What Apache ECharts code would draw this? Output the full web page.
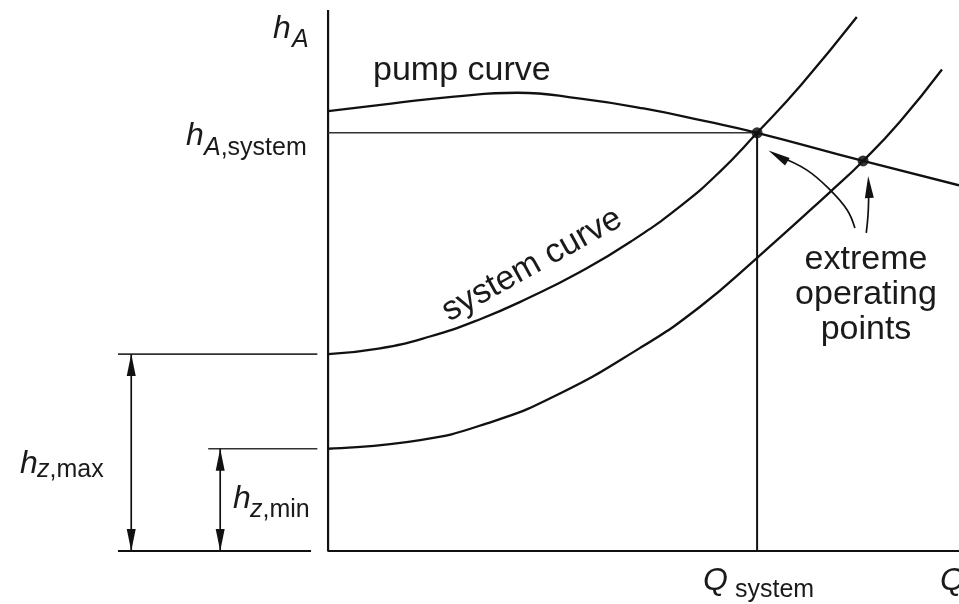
<!DOCTYPE html>
<html>
<head>
<meta charset="utf-8">
<title>pump curve / system curve</title>
<script src="https://cdn.jsdelivr.net/npm/echarts@6/dist/echarts.min.js"></script>
<style>
    html, body {margin: 0; padding: 0; background: #fff;}
    #main {width: 959px; height: 604px;}
</style>
</head>
<body>
<div id="main"></div>
<script>
// values, Q and h both on a 0-100 scale
var pumpCurve = [[0, 81.3], [10, 82.7], [20, 84.0], [30, 84.7], [40, 83.6], [50, 81.8], [60, 79.4], [68, 77.3], [84.8, 72.1], [100, 67.6]];
var systemCurveMax = [[0, 36.4], [8, 37.4], [16, 39.6], [24, 42.8], [32, 46.9], [40, 51.6], [48, 57.2], [56, 63.9], [62, 70.0], [68, 77.3], [75, 86.2], [83.8, 98.7]];
var systemCurveMin = [[0, 18.9], [14.6, 20.5], [25.2, 23.6], [35.7, 28.5], [49.4, 37.5], [59, 45.2], [68, 54.2], [79.6, 66.4], [84.8, 72.1], [90.6, 79.3], [97.3, 89.0]];
var operatingPoints = [[68, 77.3], [84.8, 72.1]];
var hzMax = 36.4;
var hzMin = 18.9;
var axisEnd = [100, 100];

// leader arrows from the "extreme operating points" note
var arrowToSystem = [[83.5, 59.7], [82.3, 63.0], [79.6, 66.7], [75.9, 70.4], [71.3, 73.0]];
var arrowToOther = [[85.3, 58.8], [85.6, 62.5], [85.7, 67.3]];

var INK = '#111';
var FONT = '"Liberation Sans", Arial, sans-serif';

var myChart = echarts.init(document.getElementById('main'));

function plainLine(data, width, color) {
    return {
        type: 'line',
        data: data,
        symbol: 'none',
        silent: true,
        lineStyle: {color: color || INK, width: width || 2}
    };
}

function curve(data) {
    var s = plainLine(data, 2.3);
    s.smooth = 0.5;
    return s;
}

// heads: [{i: index, rotate: deg, offset: [..]}]
function arrowLine(data, heads, smooth) {
    var items = data.map(function (p) {
        return {value: p, symbol: 'none'};
    });
    heads.forEach(function (h) {
        items[h.i] = {
            value: data[h.i],
            symbol: 'triangle',
            symbolSize: [9, 22],
            symbolRotate: h.rotate,
            symbolOffset: h.offset || [0, 0]
        };
    });
    return {
        type: 'line',
        data: items,
        smooth: smooth || false,
        symbol: 'triangle',
        symbolSize: [9, 22],
        showSymbol: true,
        silent: true,
        itemStyle: {color: INK, borderWidth: 0},
        lineStyle: {color: INK, width: 1.7}
    };
}

function label(x, y, text, size, italic, align) {
    return {
        type: 'text',
        x: x,
        y: y,
        silent: true,
        style: {
            text: text,
            font: (italic ? 'italic ' : '') + size + 'px ' + FONT,
            fill: '#1a1a1a',
            align: align || 'left',
            verticalAlign: 'middle'
        }
    };
}

function subLabel(x, y, italicPart, rest) {
    return {
        type: 'text',
        x: x,
        y: y,
        silent: true,
        style: {
            text: '{i|' + italicPart + '}{n|' + rest + '}',
            fill: '#1a1a1a',
            verticalAlign: 'middle',
            rich: {
                i: {font: 'italic 25px ' + FONT, fill: '#1a1a1a'},
                n: {font: '25px ' + FONT, fill: '#1a1a1a'}
            }
        }
    };
}

var option = {
    backgroundColor: '#fff',
    animation: false,
    grid: {left: 0, right: 0, top: 10, bottom: 53},
    xAxis: {type: 'value', min: -52, max: axisEnd[0], show: false},
    yAxis: {type: 'value', min: 0, max: axisEnd[1], show: false},
    series: [
        // axes
        plainLine([[0, axisEnd[1]], [0, 0], [axisEnd[0], 0]], 2.2),
        // h_A,system and Q_system guides
        plainLine([[0, operatingPoints[0][1]], operatingPoints[0]], 1.6, '#333'),
        plainLine([operatingPoints[0], [operatingPoints[0][0], 0]], 2),
        // static head reference lines on the left
        plainLine([[-33.3, hzMax], [-1.7, hzMax]], 1.6, '#333'),
        plainLine([[-19, hzMin], [-1.7, hzMin]], 1.6, '#333'),
        plainLine([[-33.3, 0], [-2.7, 0]], 2),
        arrowLine([[-31.2, hzMax], [-31.2, 0]], [
            {i: 0, rotate: 0, offset: [0, '50%']},
            {i: 1, rotate: 180, offset: [0, '-50%']}
        ]),
        arrowLine([[-17.1, hzMin], [-17.1, 0]], [
            {i: 0, rotate: 0, offset: [0, '50%']},
            {i: 1, rotate: 180, offset: [0, '-50%']}
        ]),
        // curves
        curve(pumpCurve),
        curve(systemCurveMax),
        curve(systemCurveMin),
        arrowLine(arrowToSystem, [{i: arrowToSystem.length - 1, rotate: 59}], 0.4),
        arrowLine(arrowToOther, [{i: arrowToOther.length - 1, rotate: 3}], 0.4),
        {
            type: 'scatter',
            data: operatingPoints,
            symbolSize: 11,
            silent: true,
            itemStyle: {color: '#000'}
        }
    ],
    graphic: [
        label(273, 29, 'h', 32, true),
        label(292, 40, 'A', 25, true),
        label(186, 136, 'h', 32, true),
        subLabel(204, 148, 'A', ',system'),
        label(20, 464, 'h', 32, true),
        subLabel(37, 470, 'z', ',max'),
        label(233, 499, 'h', 32, true),
        subLabel(250, 510, 'z', ',min'),
        label(703, 581, 'Q', 32, true),
        label(735, 590, 'system', 25),
        label(940, 581, 'Q', 32, true),
        label(373, 71, 'pump curve', 34),
        {
            type: 'text',
            x: 532,
            y: 265,
            rotation: 29 * Math.PI / 180,
            silent: true,
            style: {
                text: 'system curve',
                font: '34px ' + FONT,
                fill: '#1a1a1a',
                align: 'center',
                verticalAlign: 'middle'
            }
        },
        {
            type: 'text',
            x: 866,
            y: 295,
            silent: true,
            style: {
                text: 'extreme\noperating\npoints',
                font: '34px ' + FONT,
                lineHeight: 35,
                fill: '#1a1a1a',
                align: 'center',
                verticalAlign: 'middle'
            }
        }
    ]
};

myChart.setOption(option);
</script>
</body>
</html>
